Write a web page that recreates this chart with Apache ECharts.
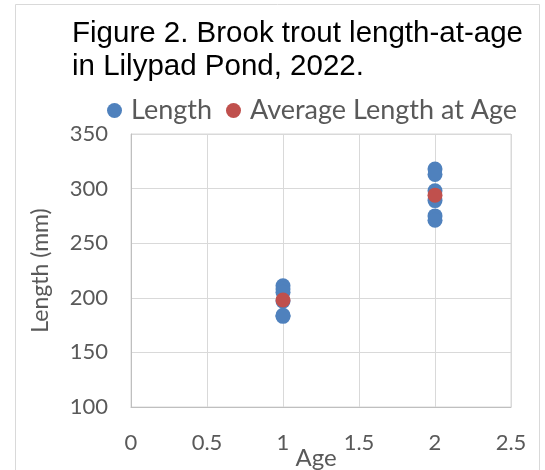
<!DOCTYPE html>
<html>
<head>
<meta charset="utf-8">
<script src="https://cdn.jsdelivr.net/npm/echarts@6/dist/echarts.min.js"></script>
<style>html,body{margin:0;padding:0;background:#fff}#c{width:545px;height:470px}</style>
</head>
<body>
<div id="c"></div>
<script>
var titleText = 'Figure 2. Brook trout length-at-age\nin Lilypad Pond, 2022.';
var seriesNames = ['Length', 'Average Length at Age'];
var fishAges = [1, 1, 1, 1, 1, 1, 2, 2, 2, 2, 2, 2];
var fishLengths = [211, 208, 205, 197, 183, 184, 318, 313, 298, 289, 275, 271];
var avgAges = [1, 2];
var avgLengths = [198, 294];
var xName = 'Age';
var yName = 'Length (mm)';

var lengthData = fishAges.map(function (a, i) { return [a, fishLengths[i]]; });
var avgData = avgAges.map(function (a, i) { return [a, avgLengths[i]]; });

var labelFont = 'Lato, "Open Sans", sans-serif';
var chart = echarts.init(document.getElementById('c'), null, {renderer: 'canvas'});
chart.setOption({
  animation: false,
  backgroundColor: '#fff',
  graphic: [{
    type: 'rect', z: -10,
    shape: {x: 15.5, y: 4.5, width: 524, height: 480},
    style: {fill: 'none', stroke: '#d9d9d9', lineWidth: 1}
  }],
  title: {
    text: titleText, left: 67, top: 12,
    textStyle: {fontFamily: '"Liberation Sans", Arial, sans-serif', fontSize: 29.5, fontWeight: 'normal', color: '#000', lineHeight: 33}
  },
  legend: {
    top: 92, left: 102, itemWidth: 15, itemHeight: 15, itemGap: 14, icon: 'circle',
    textStyle: {fontFamily: labelFont, fontSize: 27, color: '#595959', padding: [0, 0, 0, 4]},
    data: seriesNames
  },
  grid: {left: 131, top: 134, width: 380, height: 273, show: true, borderColor: '#d9d9d9', borderWidth: 1, outerBoundsMode: 'none', containLabel: false},
  xAxis: {
    type: 'value', min: 0, max: 2.5, interval: 0.5,
    name: xName, nameLocation: 'middle', nameGap: 39, nameMoveOverlap: false,
    nameTextStyle: {fontFamily: labelFont, fontSize: 24, color: '#595959', padding: [0, 10, 0, 0]},
    axisLine: {show: true, lineStyle: {color: '#bfbfbf'}},
    axisTick: {show: false},
    axisLabel: {margin: 25, fontFamily: labelFont, fontSize: 22, color: '#595959'},
    splitLine: {show: true, lineStyle: {color: '#d9d9d9'}}
  },
  yAxis: {
    type: 'value', min: 100, max: 350, interval: 50,
    name: yName, nameLocation: 'middle', nameGap: 79, nameRotate: 90, nameMoveOverlap: false,
    nameTextStyle: {fontFamily: labelFont, fontSize: 23, color: '#595959'},
    axisLine: {show: true, lineStyle: {color: '#bfbfbf'}},
    axisTick: {show: false},
    axisLabel: {margin: 23, fontFamily: labelFont, fontSize: 22, color: '#595959'},
    splitLine: {show: true, lineStyle: {color: '#d9d9d9'}}
  },
  series: [
    {name: seriesNames[0], type: 'scatter', data: lengthData, symbolSize: 15, itemStyle: {color: '#4f81bd', opacity: 1}},
    {name: seriesNames[1], type: 'scatter', data: avgData, symbolSize: 15, itemStyle: {color: '#c0504d', opacity: 1}}
  ]
});
</script>
</body>
</html>
